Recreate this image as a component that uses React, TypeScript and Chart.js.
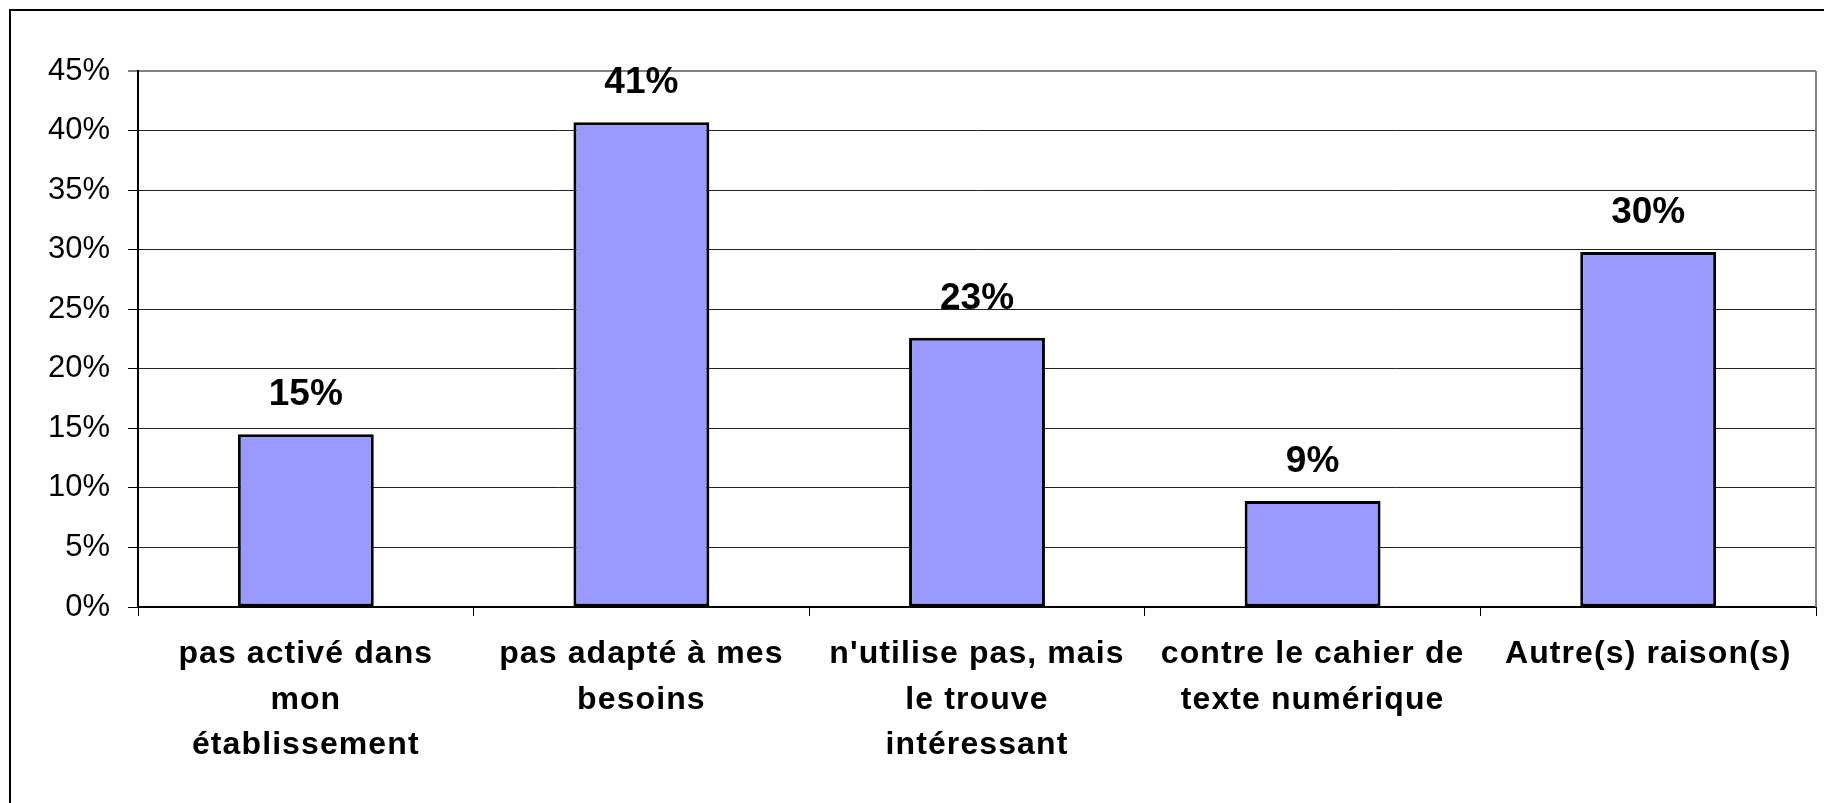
import React, { useEffect, useRef } from "react";
import { Chart, registerables } from "chart.js";

Chart.register(...registerables);

const categories: string[][] = [
  ["pas activé dans", "mon", "établissement"],
  ["pas adapté à mes", "besoins"],
  ["n'utilise pas, mais", "le trouve", "intéressant"],
  ["contre le cahier de", "texte numérique"],
  ["Autre(s) raison(s)"],
];
const values: number[] = [14.5, 40.7, 22.6, 8.9, 29.8];
const valueLabels: string[] = ["15%", "41%", "23%", "9%", "30%"];
const yTicks: number[] = [0, 5, 10, 15, 20, 25, 30, 35, 40, 45];

const FONT = "'Liberation Sans', Arial, sans-serif";

const framePlugin = {
  id: "frame",
  beforeDraw(chart: any) {
    const ctx = chart.ctx;
    ctx.save();
    ctx.fillStyle = "#ffffff";
    ctx.fillRect(0, 0, chart.width, chart.height);
    ctx.strokeStyle = "#000000";
    ctx.lineWidth = 2;
    ctx.beginPath();
    ctx.moveTo(10, chart.height);
    ctx.lineTo(10, 10);
    ctx.lineTo(chart.width, 10);
    ctx.stroke();
    ctx.restore();
  },
  afterDraw(chart: any) {
    const ctx = chart.ctx;
    (ctx as any).letterSpacing = "0px";
    const a = chart.chartArea;
    ctx.save();
    ctx.strokeStyle = "#808080";
    ctx.lineWidth = 2;
    ctx.beginPath();
    ctx.moveTo(a.right, a.top);
    ctx.lineTo(a.right, a.bottom);
    ctx.stroke();
    ctx.restore();
  },
};

const labelPlugin = {
  id: "valueLabels",
  afterDatasetsDraw(chart: any) {
    const ctx = chart.ctx;
    const meta = chart.getDatasetMeta(0);
    ctx.save();
    ctx.font = `bold 37px ${FONT}`;
    ctx.fillStyle = "#000000";
    ctx.textAlign = "center";
    ctx.textBaseline = "alphabetic";
    meta.data.forEach((bar: any, i: number) => {
      ctx.fillText(valueLabels[i], bar.x, bar.y - 29);
    });
    ctx.restore();
    // x-axis category labels are drawn after this (ticks.z = 1) with wider spacing
    (ctx as any).letterSpacing = "1.1px";
  },
};

export default function App() {
  const ref = useRef<HTMLCanvasElement | null>(null);
  useEffect(() => {
    if (!ref.current) return;
    const chart = new Chart(ref.current, {
      type: "bar",
      data: {
        labels: categories,
        datasets: [
          {
            data: values,
            backgroundColor: "#9999FF",
            borderColor: "#000000",
            borderWidth: 3,
            borderSkipped: false,
            categoryPercentage: 1,
            barPercentage: 0.405,
          },
        ],
      },
      options: {
        animation: false,
        responsive: false,
        events: [],
        layout: { padding: { left: 0, top: 71, right: 8, bottom: 0 } },
        plugins: { legend: { display: false }, tooltip: { enabled: false } },
        scales: {
          x: {
            offset: true,
            grid: {
              offset: true,
              drawOnChartArea: false,
              drawTicks: true,
              tickLength: 9,
              tickColor: "#000000",
              tickWidth: 1,
            },
            border: { color: "#000000", width: 2 },
            ticks: {
              z: 1,
              color: "#000000",
              font: { family: FONT, size: 32, weight: "bold", lineHeight: 1.41 },
              padding: 16,
              maxRotation: 0,
              autoSkip: false,
            },
            afterFit(scale: any) {
              scale.height = 803 - 607;
            },
          },
          y: {
            min: 0,
            max: 45,
            afterBuildTicks(scale: any) {
              scale.ticks = yTicks.map((v) => ({ value: v }));
            },
            grid: {
              color: (c: any) => (c.tick && c.tick.value === 45 ? "#808080" : "#222222"),
              lineWidth: (c: any) => (c.tick && c.tick.value === 45 ? 2 : 1),
              tickLength: 10,
              tickColor: "#000000",
              tickWidth: 1,
            },
            border: { color: "#000000", width: 2 },
            ticks: {
              color: "#000000",
              font: { family: FONT, size: 31 },
              padding: 18,
              callback: (v: any) => `${v}%`,
            },
            afterFit(scale: any) {
              scale.width = 138;
            },
          },
        },
      },
      plugins: [framePlugin, labelPlugin],
    });
    return () => chart.destroy();
  }, []);
  return (
    <div style={{ position: "absolute", left: 0, top: 0, width: 1824, height: 803, background: "#fff" }}>
      <canvas ref={ref} width={1824} height={803} style={{ display: "block", width: 1824, height: 803 }} />
    </div>
  );
}
